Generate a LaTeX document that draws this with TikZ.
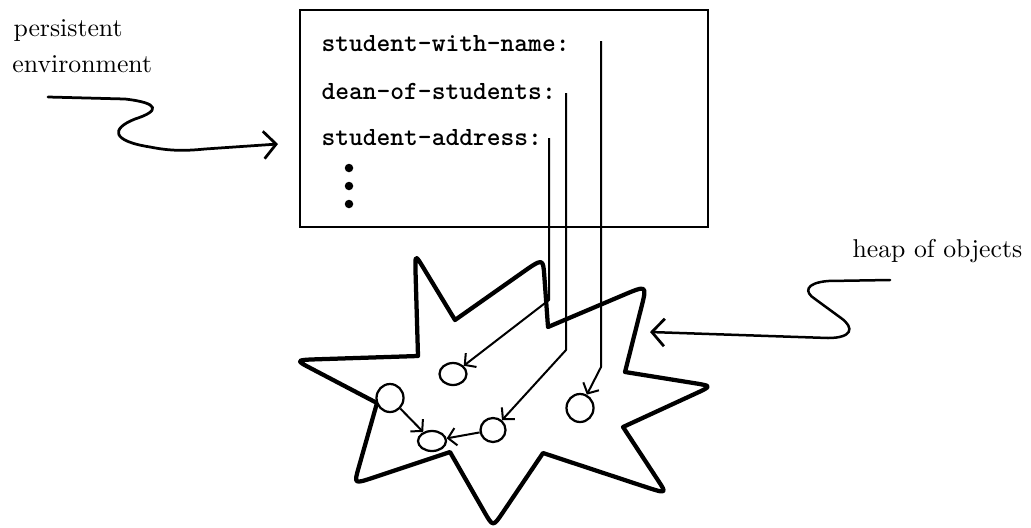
\documentclass[tikz,border=0pt]{standalone}
\usetikzlibrary{arrows.meta,shapes.geometric,calc}
\begin{document}
\begin{tikzpicture}[x=0.4pt,y=-0.4pt]
\tikzset{
  codetext/.style={font=\fontsize{10.5}{12}\selectfont\ttfamily\bfseries, inner sep=0pt, anchor=base west},
  labeltext/.style={font=\fontsize{10.3}{12}\selectfont, inner sep=0pt, anchor=base west},
  envbox/.style={draw, line width=1.1pt},
  heapline/.style={line width=1.7pt, line join=round},
  obj/.style={draw, ellipse, line width=0.9pt, inner sep=0pt},
  ptr/.style={line width=0.8pt, line join=round, -{Straight Barb[length=3.2pt,width=7pt,line width=0.8pt]}},
  wiggle/.style={line width=1.1pt, line cap=round, -{Straight Barb[length=5pt,width=11pt,line width=1.1pt]}},
}
\useasboundingbox (0,0) rectangle (1031,527);

% labels
\node[labeltext] (lpers) at (13,36) {persistent};
\node[labeltext] (lenv) at (12,72) {environment};
\node[labeltext] (lheap) at (852,257) {heap of objects};

% environment box
\draw[envbox] (300,10) rectangle (708,227);
\node[codetext] (swn) at (321,51) {student-with-name:};
\node[codetext] (dos) at (321,99) {dean-of-students:};
\node[codetext] (sad) at (321,145) {student-address:};
\fill (349,168) circle[radius=1.7pt];
\fill (349,186) circle[radius=1.7pt];
\fill (349,204) circle[radius=1.7pt];

% heap outline
\coordinate (N1) at (548,327);
\coordinate (P1) at (647,285);
\coordinate (N2) at (625,372);
\coordinate (P2) at (712,386);
\coordinate (N3) at (623,427);
\coordinate (P3) at (667,494);
\coordinate (N4) at (543,453);
\coordinate (P4) at (493,527);
\coordinate (N5) at (450,452);
\coordinate (P5) at (354,484);
\coordinate (N6) at (377,403);
\coordinate (P6) at (295,360);
\coordinate (N7) at (418,356);
\coordinate (P7) at (415,254);
\coordinate (N8) at (455,320);
\coordinate (P8) at (543,258);
\draw[heapline] (N1)
  -- ($(N1)!0.75!(P1)$) .. controls (P1) .. ($(N2)!0.75!(P1)$) -- (N2)
  -- ($(N2)!0.8!(P2)$) .. controls (P2) .. ($(N3)!0.8!(P2)$) -- (N3)
  -- ($(N3)!0.8!(P3)$) .. controls (P3) .. ($(N4)!0.8!(P3)$) -- (N4)
  -- ($(N4)!0.8!(P4)$) .. controls (P4) .. ($(N5)!0.8!(P4)$) -- (N5)
  -- ($(N5)!0.8!(P5)$) .. controls (P5) .. ($(N6)!0.8!(P5)$) -- (N6)
  -- ($(N6)!0.8!(P6)$) .. controls (P6) .. ($(N7)!0.8!(P6)$) -- (N7)
  -- ($(N7)!0.8!(P7)$) .. controls (P7) .. ($(N8)!0.8!(P7)$) -- (N8)
  -- ($(N8)!0.75!(P8)$) .. controls (P8) .. ($(N1)!0.75!(P8)$) -- cycle;

% objects
\node[obj, fill=white, minimum width=10.8pt, minimum height=8.8pt] (A) at (453,374) {};
\node[obj, fill=white, minimum width=10.8pt, minimum height=11.2pt] (B) at (390,398) {};
\node[obj, fill=white, minimum width=11.2pt, minimum height=8pt] (C) at (432,441) {};
\node[obj, fill=white, minimum width=10pt, minimum height=9.6pt] (D) at (493,430) {};
\node[obj, fill=white, minimum width=10.8pt, minimum height=11.2pt] (E) at (580,408) {};

% pointers
\coordinate (sadS) at (549,138);
\coordinate (sadB) at (549,300);
\coordinate (dosS) at (566,93);
\coordinate (dosB) at (566,350);
\coordinate (swnS) at (601,41);
\coordinate (swnB) at (601,367);
\draw[ptr] (sadS) -- (sadB) -- (A);
\draw[ptr] (dosS) -- (dosB) -- (D);
\draw[ptr] (swnS) -- (swnB) -- (E);
\draw[ptr] (B) -- (C);
\draw[ptr] (D) -- (C);

% label arrows
\coordinate (envS) at (48,97);
\coordinate (envT) at (278,144);
\draw[wiggle] (envS) -- (125,99) .. controls (160,103) and (160,111) .. (135,119)
  .. controls (110,129) and (112,141) .. (150,147)
  .. controls (170,151) and (185,151) .. (205,149) -- (envT);
\coordinate (heapS) at (890,280);
\coordinate (heapT) at (650,332);
\draw[wiggle, line width=1pt] (heapS) -- (828,281) .. controls (805,283) and (804,292) .. (815,299)
  -- (841,318) .. controls (855,328) and (852,338) .. (828,338) -- (heapT);
\end{tikzpicture}
\end{document}
